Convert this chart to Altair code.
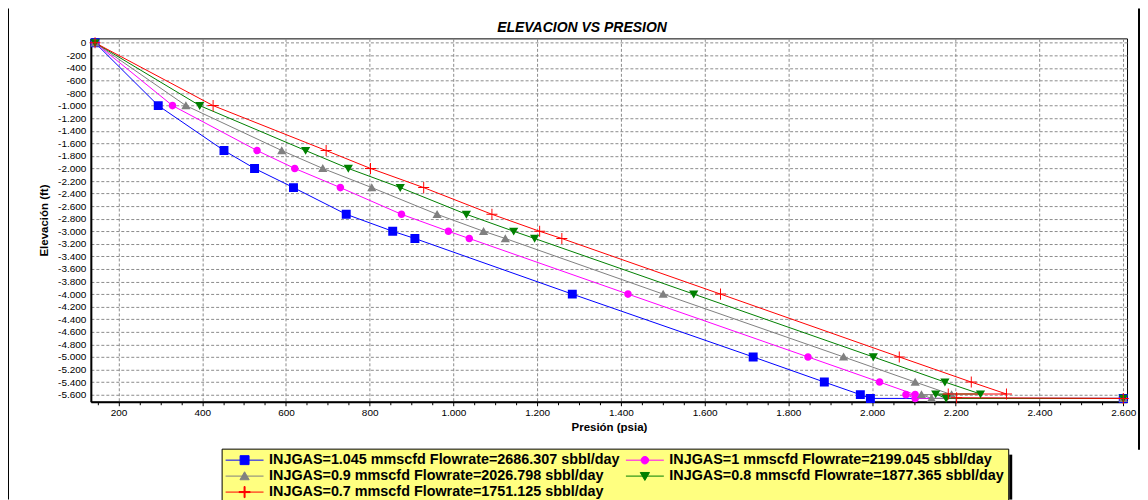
import altair as alt
import pandas as pd

# ---- data ----
series = [
    "INJGAS=1.045 mmscfd Flowrate=2686.307 sbbl/day",
    "INJGAS=1 mmscfd Flowrate=2199.045 sbbl/day",
    "INJGAS=0.9 mmscfd Flowrate=2026.798 sbbl/day",
    "INJGAS=0.8 mmscfd Flowrate=1877.365 sbbl/day",
    "INJGAS=0.7 mmscfd Flowrate=1751.125 sbbl/day",
]
colors = ["#0000FF", "#FF00FF", "#808080", "#008000", "#FF0000"]

p_1045 = [144, 295, 452, 525, 618, 744, 855, 908, 1284, 1716, 1886, 1972, 1996, 2600]
e_1045 = [0, -1000, -1715, -2000, -2305, -2730, -3000, -3115, -4000, -5000, -5400, -5600, -5660, -5660]

p_100 = [144, 329, 531, 621, 730, 876, 988, 1038, 1417, 1847, 2018, 2103, 2081, 2103, 2600]
e_100 = [0, -1000, -1715, -2000, -2305, -2730, -3000, -3115, -4000, -5000, -5400, -5600, -5600, -5660, -5660]

p_090 = [144, 361, 590, 688, 805, 961, 1072, 1124, 1501, 1932, 2103, 2190, 2118, 2142, 2600]
e_090 = [0, -1000, -1715, -2000, -2305, -2730, -3000, -3115, -4000, -5000, -5400, -5600, -5600, -5660, -5660]

p_080 = [144, 394, 647, 749, 873, 1031, 1144, 1194, 1574, 2003, 2174, 2259, 2152, 2177, 2600]
e_080 = [0, -1000, -1715, -2000, -2305, -2730, -3000, -3115, -4000, -5000, -5400, -5590, -5590, -5660, -5660]

p_070 = [144, 426, 696, 802, 929, 1092, 1206, 1259, 1638, 2065, 2237, 2321, 2182, 2202, 2600]
e_070 = [0, -1000, -1715, -2000, -2305, -2730, -3000, -3115, -4000, -5000, -5400, -5590, -5590, -5650, -5660]

x_ticks = list(range(150, 2601, 50))
y_ticks = list(range(-5600, 1, 200))

# ---- table ----
rows = []
for name, ps, es in zip(series, [p_1045, p_100, p_090, p_080, p_070],
                        [e_1045, e_100, e_090, e_080, e_070]):
    for i, (p, e) in enumerate(zip(ps, es)):
        rows.append({"series": name, "idx": i, "presion": p, "elevacion": e})
df = pd.DataFrame(rows)

# marker shapes (line segment for legend + marker), unit = 7px
line_part = "M-2.714,0H2.714 "
markers = [
    "M-0.64,-0.64H0.64V0.64H-0.64Z",
    "M0.54,0A0.54,0.54,0,1,1,-0.54,0A0.54,0.54,0,1,1,0.54,0Z",
    "M0,-0.62L0.66,0.52L-0.66,0.52Z",
    "M0,0.62L0.66,-0.52L-0.66,-0.52Z",
    "M-0.79,-0.07H0.79V0.07H-0.79Z M-0.07,-0.79H0.07V0.79H-0.07Z",
]
shapes = [line_part + m for m in markers]

# legend fills columns first: order so that rows read 1.045 | 1, 0.9 | 0.8, 0.7
legend_order = [0, 2, 4, 1, 3]
dom = [series[i] for i in legend_order]
col_rng = [colors[i] for i in legend_order]
shp_rng = [shapes[i] for i in legend_order]

FONT = "Liberation Sans"

leg = alt.Legend(
    title=None, orient="none", legendX=131, legendY=411, columns=2,
    fillColor="#FFFF80", strokeColor="black", padding=4,
    symbolSize=196, symbolStrokeWidth=1, symbolOffset=11.5, labelOffset=17,
    rowPadding=1, columnPadding=4, labelFont=FONT, labelFontSize=14.4,
    labelFontWeight="bold", labelColor="black", labelLimit=0,
    symbolFillColor="white", symbolStrokeColor="black", symbolOpacity=1,
)

x_enc = alt.X(
    "presion:Q",
    scale=alt.Scale(domain=[134, 2609], nice=False, zero=False),
    axis=alt.Axis(
        title="Presión (psia)", values=x_ticks,
        labelExpr="datum.value % 200 === 0 ? replace(format(datum.value, ','), ',', '.') : ''",
        gridOpacity={"condition": {"test": "datum.value % 200 === 0", "value": 1}, "value": 0},
        tickSize={"condition": {"test": "datum.value % 200 === 0", "value": 4}, "value": 3},
        labelPadding=2, titlePadding=4,
    ),
)
y_enc = alt.Y(
    "elevacion:Q",
    scale=alt.Scale(domain=[-5713, 70], nice=False, zero=False),
    axis=alt.Axis(
        title="Elevación (ft)", values=y_ticks, ticks=False,
        labelExpr="(datum.value < 0 ? '-' : '') + replace(format(abs(datum.value), ','), ',', '.')",
        labelPadding=5, titlePadding=8,
    ),
)

base = alt.Chart(df)

lines = base.mark_line(strokeWidth=1).encode(
    x=x_enc, y=y_enc,
    stroke=alt.Stroke("series:N", scale=alt.Scale(domain=dom, range=col_rng), legend=leg),
    order=alt.Order("idx:Q"),
)

points = base.mark_point(filled=True, size=196, opacity=1).encode(
    x=x_enc, y=y_enc,
    fill=alt.Fill("series:N", scale=alt.Scale(domain=dom, range=col_rng), legend=leg),
    shape=alt.Shape("series:N", scale=alt.Scale(domain=dom, range=shp_rng), legend=leg),
)

frame_df = pd.DataFrame({"k": [0]})
frame_left = alt.Chart(frame_df).mark_rule(color="black", strokeWidth=2).encode(
    x=alt.value(-83), y=alt.value(-30), y2=alt.value(462)
)
frame_right = alt.Chart(frame_df).mark_rule(color="black", strokeWidth=2).encode(
    x=alt.value(1050), y=alt.value(-30), y2=alt.value(412)
)
legend_shadow = alt.Chart(frame_df).mark_rule(color="black", strokeWidth=3).encode(
    x=alt.value(921.5), y=alt.value(417), y2=alt.value(462)
)

chart = alt.layer(lines, points, frame_left, frame_right, legend_shadow).properties(
    width=1038, height=364,
    autosize=alt.AutoSizeParams(type="none"),
    padding={"left": 83, "top": 30, "right": 13, "bottom": 98},
    title=alt.Title("ELEVACION VS PRESION", font=FONT, fontSize=14, fontWeight="bold",
                    fontStyle="italic", anchor="middle", frame="group", dx=-27,
                    offset=-28, color="black"),
).configure_view(
    stroke="black", strokeWidth=1
).configure_axis(
    labelFont=FONT, labelFontSize=10, labelColor="black",
    titleFont=FONT, titleFontSize=11.5, titleFontWeight="bold", titleColor="black",
    gridColor="#8c8c8c", gridDash=[3, 2], gridWidth=1,
    domainColor="black", domainWidth=2, tickColor="black",
)

chart.save("out.html", embed_options={"renderer": "svg", "actions": False})
